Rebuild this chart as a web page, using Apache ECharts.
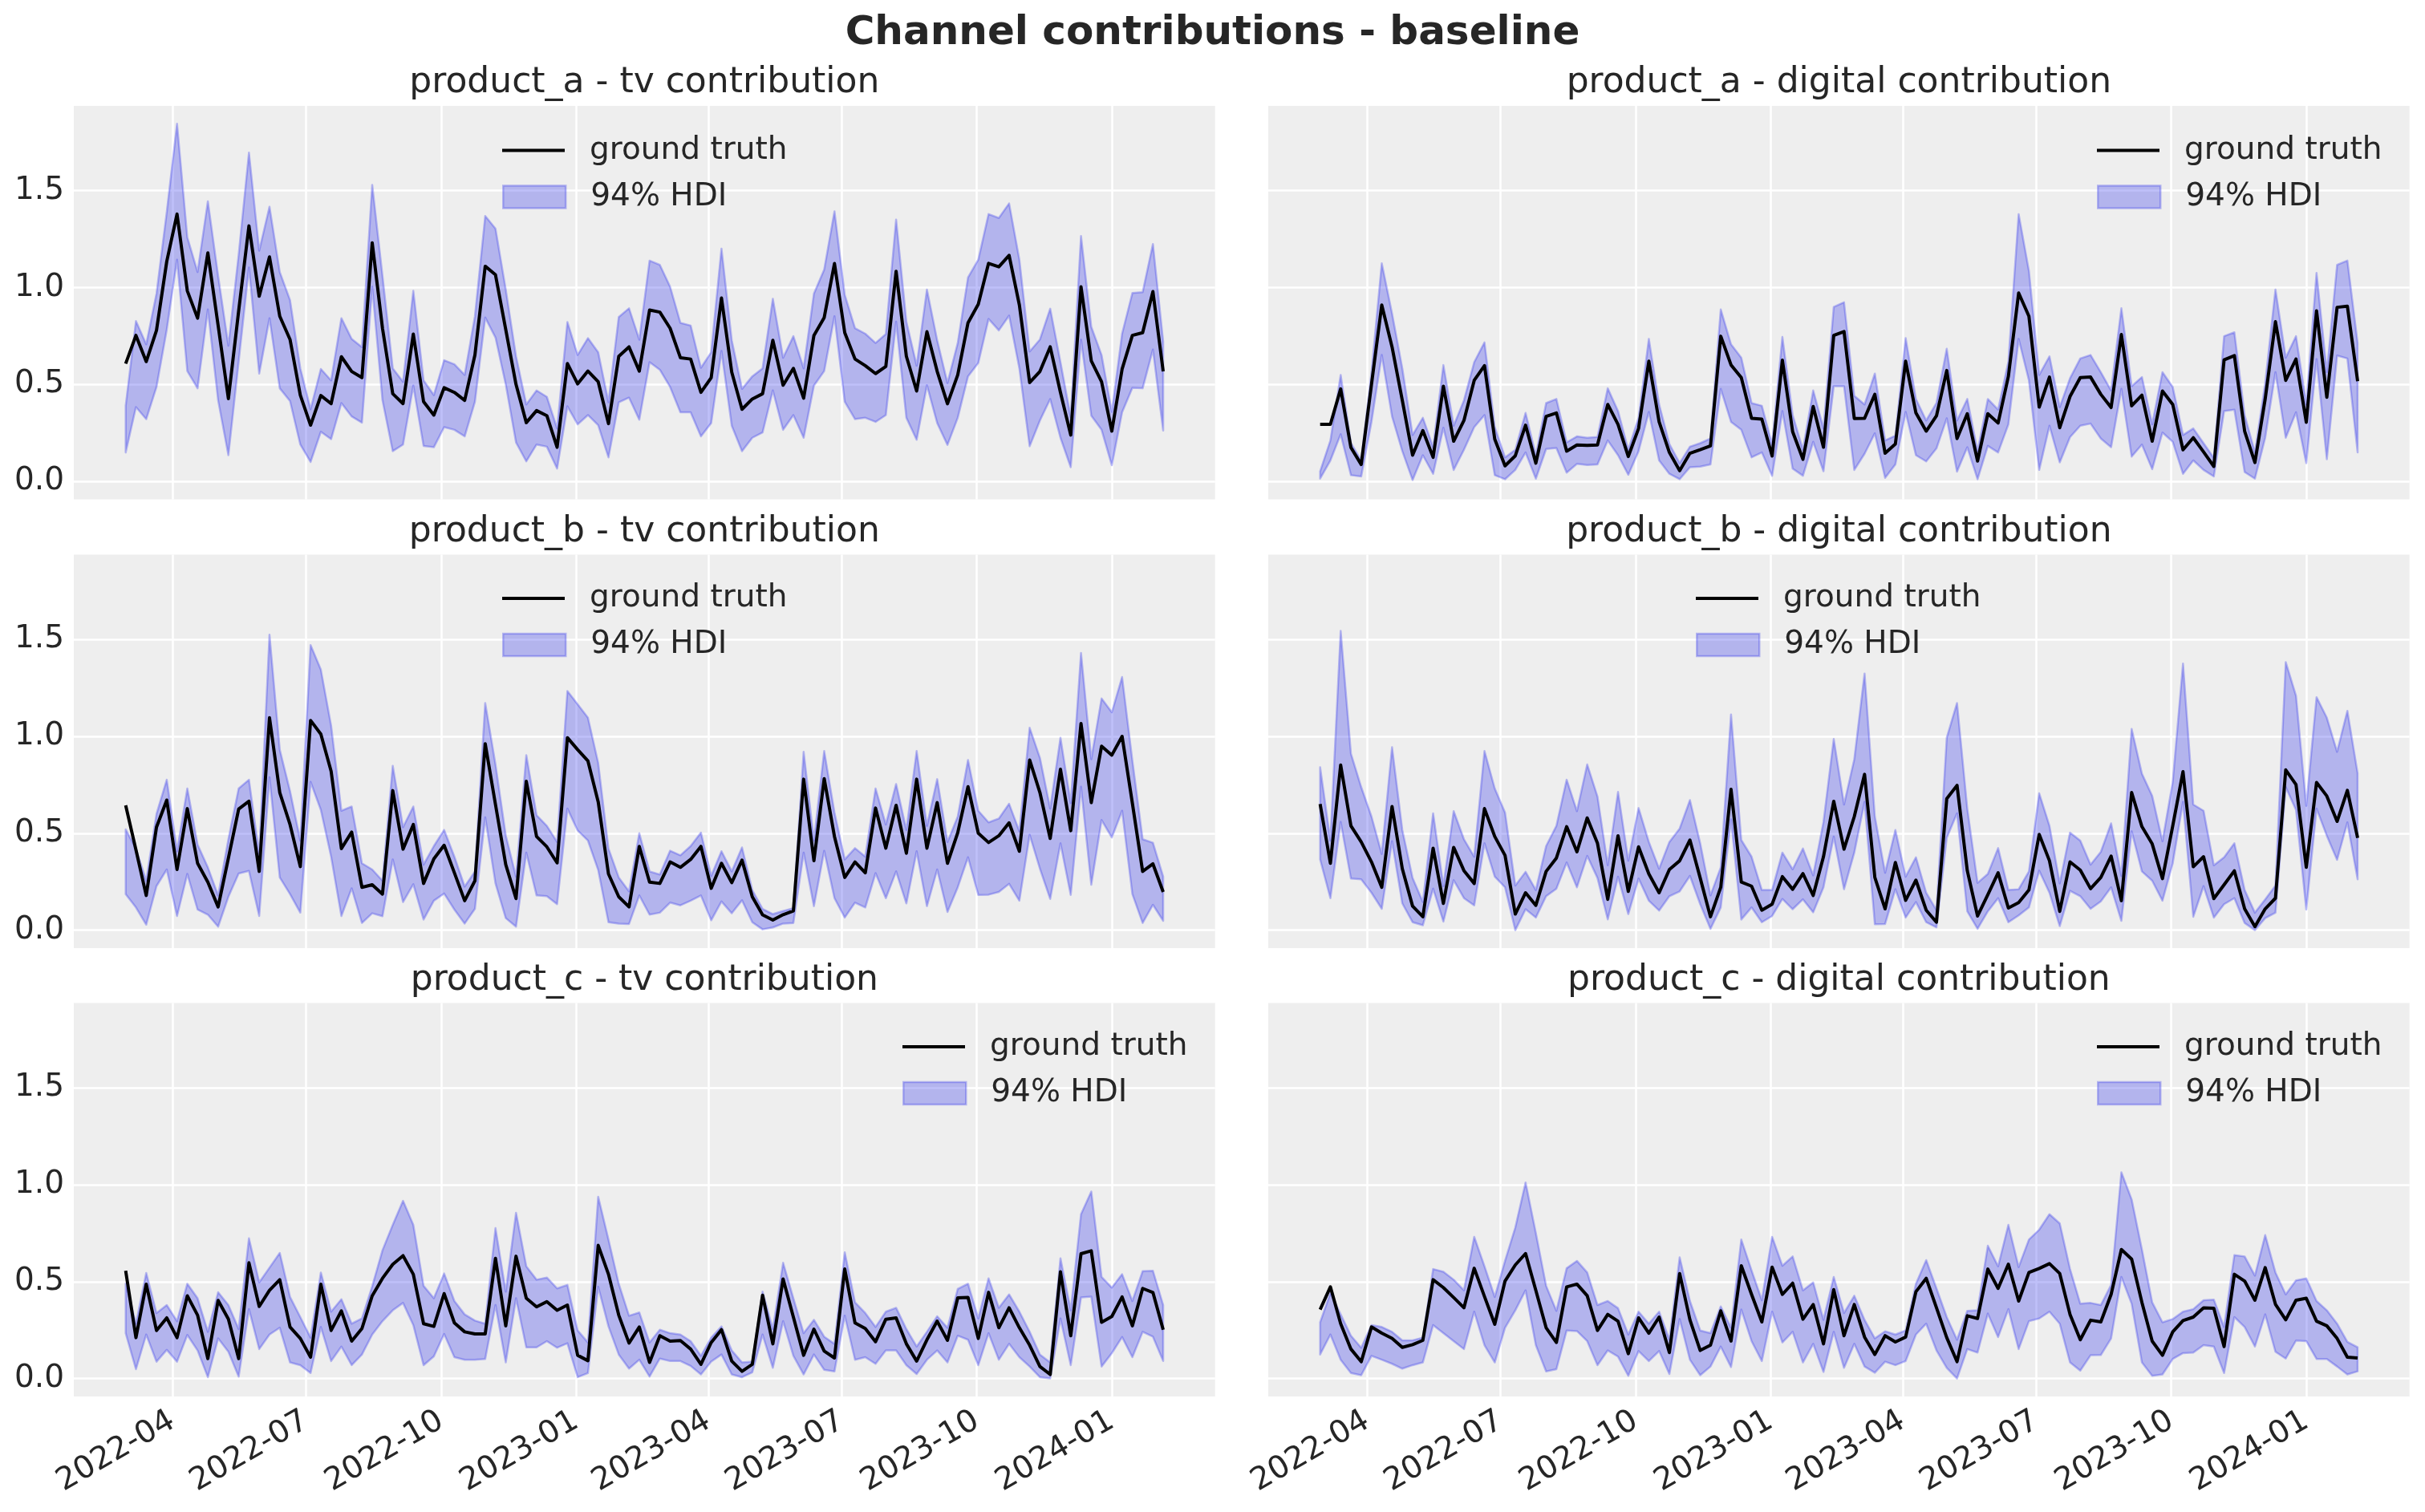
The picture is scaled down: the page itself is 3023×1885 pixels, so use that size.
<!DOCTYPE html>
<html>
<head>
<meta charset="utf-8">
<title>Channel contributions - baseline</title>
<script src="https://cdn.jsdelivr.net/npm/echarts@6/dist/echarts.min.js"></script>
<style>
  html, body { margin: 0; padding: 0; background: #ffffff; }
  #chart { width: 3023px; height: 1885px; }
</style>
</head>
<body>
<div id="chart"></div>
<script>
// weekly index, first week and tick positions
const weekStart = '2022-02-28';
const quarterTicks = ['2022-04-01', '2022-07-01', '2022-10-01', '2023-01-01',
  '2023-04-01', '2023-07-01', '2023-10-01', '2024-01-01'];
const yTicks = [0, 0.5, 1.0, 1.5];

// product_a - tv
const aTvTruth = [0.607,0.753,0.618,0.779,1.135,1.379,0.983,0.842,1.179,0.804,
  0.427,0.88,1.318,0.955,1.158,0.852,0.732,0.445,0.29,0.443,
  0.401,0.643,0.567,0.535,1.231,0.79,0.452,0.401,0.76,0.411,
  0.342,0.483,0.459,0.418,0.652,1.11,1.066,0.783,0.5,0.303,
  0.365,0.339,0.176,0.608,0.503,0.569,0.514,0.298,0.645,0.694,
  0.569,0.884,0.873,0.79,0.638,0.631,0.459,0.535,0.946,0.563,
  0.372,0.425,0.452,0.728,0.496,0.583,0.429,0.753,0.845,1.124,
  0.767,0.631,0.597,0.556,0.593,1.084,0.645,0.466,0.772,0.567,
  0.4,0.549,0.818,0.914,1.125,1.107,1.166,0.91,0.51,0.567,
  0.694,0.459,0.239,1.004,0.622,0.514,0.259,0.579,0.753,0.767,
  0.979,0.567];
const aTvHigh = [0.39,0.827,0.707,0.969,1.39,1.845,1.259,1.08,1.445,1.06,
  0.70,1.17,1.696,1.19,1.417,1.08,0.935,0.583,0.372,0.58,
  0.521,0.842,0.735,0.693,1.53,1.06,0.583,0.514,0.983,0.521,
  0.445,0.625,0.604,0.549,0.852,1.369,1.304,0.99,0.645,0.397,
  0.469,0.436,0.273,0.822,0.652,0.739,0.666,0.408,0.848,0.893,
  0.731,1.139,1.117,1.004,0.818,0.804,0.586,0.666,1.201,0.728,
  0.477,0.542,0.583,0.942,0.638,0.749,0.583,0.969,1.093,1.393,
  0.962,0.79,0.762,0.714,0.76,1.351,0.824,0.597,0.99,0.728,
  0.507,0.714,1.052,1.144,1.379,1.359,1.434,1.144,0.67,0.732,
  0.891,0.615,0.331,1.266,0.797,0.652,0.358,0.762,0.972,0.976,
  1.224,0.721];
const aTvLow = [0.149,0.383,0.321,0.487,0.783,1.144,0.569,0.48,0.887,0.418,
  0.135,0.618,1.103,0.556,0.842,0.48,0.414,0.19,0.10,0.256,
  0.218,0.404,0.335,0.303,1.004,0.418,0.156,0.19,0.494,0.183,
  0.176,0.28,0.266,0.232,0.411,0.845,0.742,0.5,0.201,0.103,
  0.19,0.179,0.066,0.387,0.294,0.342,0.29,0.124,0.408,0.432,
  0.318,0.615,0.576,0.487,0.356,0.356,0.232,0.301,0.673,0.287,
  0.156,0.225,0.252,0.469,0.266,0.342,0.225,0.494,0.569,0.852,
  0.411,0.321,0.328,0.307,0.342,0.824,0.328,0.215,0.496,0.301,
  0.188,0.328,0.542,0.611,0.838,0.779,0.855,0.583,0.181,0.314,
  0.425,0.225,0.073,0.731,0.339,0.266,0.083,0.356,0.483,0.48,
  0.68,0.262];

// product_a - digital
const aDigTruth = [0.294,0.294,0.477,0.174,0.087,0.5,0.91,0.694,0.418,0.135,
  0.262,0.124,0.491,0.207,0.314,0.521,0.597,0.218,0.08,0.132,
  0.29,0.094,0.335,0.353,0.156,0.188,0.186,0.188,0.397,0.294,
  0.128,0.273,0.62,0.307,0.149,0.055,0.145,0.163,0.183,0.749,
  0.601,0.535,0.325,0.321,0.131,0.625,0.256,0.114,0.386,0.176,
  0.753,0.773,0.324,0.325,0.449,0.145,0.193,0.62,0.353,0.259,
  0.338,0.572,0.221,0.349,0.105,0.349,0.301,0.542,0.972,0.852,
  0.383,0.538,0.277,0.438,0.535,0.538,0.449,0.381,0.758,0.39,
  0.445,0.207,0.466,0.397,0.163,0.225,0.152,0.077,0.627,0.649,
  0.259,0.097,0.425,0.824,0.521,0.631,0.305,0.88,0.434,0.898,
  0.904,0.517];
const aDigHigh = [0.052,0.211,0.549,0.197,0.108,0.563,1.125,0.866,0.583,0.239,
  0.328,0.176,0.6,0.287,0.418,0.615,0.717,0.28,0.124,0.163,
  0.353,0.135,0.404,0.425,0.201,0.232,0.225,0.229,0.48,0.363,
  0.163,0.328,0.735,0.397,0.193,0.094,0.179,0.197,0.221,0.887,
  0.707,0.638,0.404,0.39,0.19,0.745,0.342,0.163,0.469,0.273,
  0.9,0.924,0.441,0.397,0.556,0.211,0.236,0.739,0.425,0.314,
  0.404,0.684,0.314,0.425,0.156,0.425,0.37,0.618,1.379,1.086,
  0.549,0.645,0.383,0.532,0.634,0.652,0.563,0.469,0.893,0.491,
  0.538,0.294,0.563,0.487,0.239,0.273,0.197,0.121,0.749,0.769,
  0.342,0.149,0.507,0.99,0.638,0.749,0.397,1.075,0.563,1.117,
  1.139,0.714];
const aDigLow = [0.014,0.108,0.243,0.032,0.025,0.307,0.652,0.335,0.156,0.007,
  0.135,0.039,0.277,0.059,0.163,0.28,0.342,0.032,0.011,0.059,
  0.149,0.014,0.167,0.172,0.045,0.09,0.084,0.087,0.211,0.135,
  0.034,0.156,0.358,0.108,0.039,0.011,0.073,0.076,0.087,0.477,
  0.307,0.266,0.124,0.149,0.028,0.363,0.066,0.029,0.204,0.052,
  0.491,0.491,0.059,0.142,0.248,0.018,0.087,0.358,0.135,0.103,
  0.17,0.325,0.05,0.176,0.011,0.183,0.149,0.294,0.735,0.521,
  0.059,0.287,0.098,0.228,0.287,0.298,0.221,0.176,0.477,0.128,
  0.19,0.063,0.252,0.204,0.039,0.108,0.059,0.025,0.363,0.37,
  0.048,0.014,0.225,0.563,0.225,0.356,0.094,0.631,0.114,0.649,
  0.634,0.149];

// product_b - tv
const bTvTruth = [0.644,0.414,0.179,0.531,0.671,0.313,0.627,0.345,0.248,0.12,
  0.372,0.625,0.665,0.303,1.096,0.71,0.545,0.328,1.082,1.011,
  0.82,0.421,0.506,0.221,0.234,0.186,0.72,0.418,0.545,0.241,
  0.368,0.438,0.296,0.152,0.255,0.962,0.648,0.338,0.163,0.768,
  0.483,0.43,0.347,0.993,0.931,0.873,0.662,0.29,0.172,0.12,
  0.432,0.248,0.241,0.352,0.324,0.365,0.432,0.216,0.345,0.245,
  0.361,0.172,0.079,0.052,0.08,0.099,0.779,0.358,0.782,0.483,
  0.272,0.352,0.296,0.63,0.423,0.644,0.397,0.779,0.423,0.658,
  0.345,0.503,0.74,0.5,0.452,0.487,0.554,0.407,0.878,0.71,
  0.473,0.83,0.513,1.066,0.658,0.949,0.903,1.0,0.655,0.303,
  0.342,0.197];
const bTvHigh = [0.52,0.42,0.255,0.6,0.776,0.407,0.731,0.441,0.324,0.179,
  0.469,0.731,0.776,0.393,1.524,0.931,0.717,0.462,1.471,1.344,
  1.055,0.616,0.638,0.345,0.313,0.255,0.848,0.531,0.638,0.338,
  0.434,0.517,0.379,0.225,0.303,1.172,0.855,0.489,0.276,0.903,
  0.593,0.538,0.455,1.234,1.165,1.096,0.862,0.421,0.272,0.2,
  0.5,0.303,0.287,0.41,0.386,0.434,0.503,0.28,0.407,0.303,
  0.427,0.207,0.11,0.083,0.099,0.113,0.92,0.462,0.924,0.607,
  0.365,0.423,0.379,0.731,0.545,0.754,0.517,0.924,0.538,0.779,
  0.455,0.586,0.878,0.616,0.556,0.576,0.652,0.51,1.044,0.889,
  0.627,0.993,0.655,1.43,0.882,1.195,1.124,1.306,0.875,0.469,
  0.451,0.276];
const bTvLow = [0.186,0.117,0.028,0.227,0.313,0.073,0.29,0.106,0.08,0.018,
  0.172,0.292,0.306,0.073,0.789,0.272,0.186,0.09,0.765,0.62,
  0.379,0.073,0.216,0.037,0.087,0.072,0.365,0.145,0.237,0.055,
  0.152,0.189,0.106,0.034,0.11,0.582,0.241,0.062,0.018,0.4,
  0.179,0.175,0.134,0.627,0.514,0.462,0.31,0.041,0.034,0.032,
  0.179,0.08,0.09,0.142,0.128,0.152,0.179,0.051,0.148,0.087,
  0.154,0.041,0.004,0.014,0.034,0.037,0.4,0.124,0.409,0.165,
  0.065,0.142,0.117,0.294,0.165,0.303,0.138,0.407,0.124,0.313,
  0.094,0.221,0.376,0.182,0.183,0.197,0.239,0.152,0.492,0.317,
  0.161,0.448,0.182,0.74,0.234,0.568,0.478,0.616,0.186,0.037,
  0.131,0.048];

// product_b - digital
const bDigTruth = [0.651,0.345,0.852,0.538,0.455,0.352,0.221,0.638,0.317,0.124,
  0.069,0.423,0.138,0.427,0.307,0.241,0.627,0.483,0.386,0.083,
  0.193,0.128,0.303,0.372,0.534,0.404,0.579,0.448,0.159,0.487,
  0.2,0.43,0.29,0.193,0.313,0.358,0.465,0.269,0.069,0.221,
  0.727,0.248,0.227,0.103,0.134,0.276,0.211,0.292,0.179,0.379,
  0.665,0.418,0.586,0.804,0.272,0.11,0.349,0.154,0.258,0.103,
  0.041,0.678,0.747,0.307,0.073,0.183,0.296,0.114,0.142,0.207,
  0.494,0.358,0.097,0.352,0.31,0.214,0.272,0.382,0.152,0.71,
  0.534,0.445,0.266,0.538,0.818,0.327,0.379,0.163,0.234,0.306,
  0.11,0.018,0.11,0.165,0.827,0.751,0.324,0.762,0.692,0.561,
  0.721,0.476];
const bDigHigh = [0.841,0.462,1.544,0.91,0.738,0.586,0.393,0.944,0.517,0.269,
  0.145,0.603,0.227,0.614,0.469,0.379,0.924,0.731,0.607,0.23,
  0.301,0.207,0.434,0.538,0.776,0.614,0.855,0.689,0.335,0.713,
  0.358,0.63,0.455,0.317,0.455,0.524,0.671,0.448,0.179,0.324,
  1.113,0.465,0.379,0.207,0.207,0.4,0.314,0.421,0.283,0.558,
  0.986,0.648,0.882,1.324,0.586,0.296,0.517,0.276,0.376,0.193,
  0.103,0.993,1.172,0.627,0.244,0.29,0.423,0.207,0.211,0.303,
  0.706,0.538,0.241,0.503,0.462,0.338,0.404,0.551,0.28,1.038,
  0.807,0.693,0.459,0.765,1.375,0.648,0.616,0.335,0.376,0.448,
  0.207,0.09,0.159,0.23,1.383,1.209,0.641,1.202,1.096,0.92,
  1.131,0.809];
const bDigLow = [0.365,0.165,0.558,0.266,0.262,0.193,0.11,0.459,0.138,0.041,
  0.025,0.214,0.044,0.258,0.165,0.128,0.448,0.276,0.221,0.0,
  0.108,0.065,0.175,0.214,0.349,0.221,0.383,0.269,0.055,0.276,
  0.083,0.266,0.152,0.101,0.175,0.2,0.28,0.134,0.007,0.117,
  0.572,0.055,0.117,0.041,0.073,0.161,0.108,0.159,0.092,0.221,
  0.483,0.211,0.4,0.662,0.03,0.032,0.211,0.065,0.145,0.041,
  0.014,0.476,0.603,0.097,0.007,0.097,0.165,0.041,0.076,0.117,
  0.307,0.193,0.021,0.203,0.175,0.11,0.148,0.221,0.048,0.51,
  0.303,0.255,0.152,0.345,0.662,0.069,0.227,0.065,0.134,0.165,
  0.037,0.0,0.062,0.09,0.738,0.62,0.106,0.627,0.487,0.363,
  0.556,0.262];

// product_c - tv
const cTvTruth = [0.556,0.211,0.487,0.248,0.313,0.211,0.427,0.327,0.103,0.403,
  0.307,0.103,0.597,0.372,0.455,0.51,0.266,0.207,0.11,0.487,
  0.248,0.349,0.193,0.258,0.427,0.517,0.589,0.634,0.538,0.283,
  0.269,0.438,0.287,0.241,0.23,0.23,0.62,0.272,0.631,0.414,
  0.37,0.397,0.352,0.379,0.12,0.092,0.687,0.538,0.327,0.183,
  0.266,0.083,0.221,0.193,0.196,0.152,0.073,0.186,0.252,0.09,
  0.037,0.073,0.43,0.179,0.514,0.317,0.12,0.255,0.142,0.106,
  0.565,0.287,0.258,0.19,0.306,0.313,0.179,0.09,0.2,0.296,
  0.197,0.416,0.418,0.207,0.445,0.262,0.365,0.262,0.172,0.062,
  0.021,0.551,0.221,0.644,0.659,0.29,0.32,0.421,0.272,0.465,
  0.444,0.252];
const cTvHigh = [0.49,0.283,0.545,0.338,0.379,0.296,0.489,0.414,0.241,0.445,
  0.379,0.255,0.724,0.496,0.572,0.648,0.421,0.317,0.211,0.547,
  0.345,0.409,0.283,0.31,0.476,0.662,0.793,0.917,0.793,0.478,
  0.414,0.542,0.4,0.331,0.299,0.283,0.776,0.448,0.855,0.579,
  0.51,0.521,0.465,0.483,0.248,0.186,0.938,0.717,0.489,0.324,
  0.341,0.186,0.252,0.234,0.227,0.193,0.117,0.211,0.269,0.145,
  0.083,0.087,0.448,0.255,0.597,0.414,0.234,0.303,0.216,0.179,
  0.651,0.393,0.338,0.266,0.345,0.365,0.255,0.165,0.241,0.321,
  0.262,0.462,0.489,0.31,0.517,0.365,0.434,0.345,0.241,0.124,
  0.083,0.62,0.352,0.848,0.965,0.524,0.469,0.538,0.4,0.554,
  0.556,0.379];
const cTvLow = [0.234,0.048,0.227,0.087,0.148,0.087,0.225,0.145,0.007,0.207,
  0.138,0.01,0.358,0.152,0.227,0.262,0.083,0.069,0.028,0.266,
  0.09,0.165,0.069,0.124,0.227,0.296,0.352,0.39,0.276,0.069,
  0.114,0.23,0.11,0.097,0.097,0.101,0.379,0.083,0.414,0.161,
  0.161,0.193,0.159,0.182,0.007,0.028,0.473,0.269,0.124,0.051,
  0.097,0.01,0.103,0.09,0.09,0.065,0.021,0.087,0.124,0.021,
  0.007,0.032,0.227,0.055,0.296,0.117,0.021,0.124,0.045,0.037,
  0.324,0.097,0.11,0.076,0.145,0.145,0.069,0.023,0.097,0.145,
  0.083,0.221,0.2,0.069,0.234,0.097,0.179,0.11,0.062,0.007,
  0.0,0.31,0.069,0.418,0.423,0.062,0.131,0.214,0.11,0.241,
  0.216,0.09];

// product_c - digital
const cDigTruth = [0.356,0.473,0.283,0.152,0.087,0.266,0.234,0.207,0.161,0.175,
  0.197,0.51,0.469,0.418,0.365,0.569,0.423,0.28,0.503,0.586,
  0.645,0.455,0.262,0.186,0.473,0.487,0.427,0.248,0.331,0.296,
  0.128,0.313,0.234,0.317,0.134,0.542,0.303,0.145,0.172,0.349,
  0.193,0.582,0.434,0.292,0.575,0.434,0.492,0.306,0.382,0.179,
  0.459,0.221,0.382,0.214,0.124,0.221,0.189,0.214,0.448,0.517,
  0.365,0.211,0.087,0.324,0.31,0.565,0.465,0.59,0.4,0.547,
  0.568,0.593,0.542,0.331,0.2,0.301,0.292,0.434,0.666,0.616,
  0.393,0.193,0.12,0.241,0.299,0.317,0.365,0.363,0.165,0.538,
  0.503,0.404,0.572,0.383,0.303,0.404,0.414,0.296,0.272,0.207,
  0.11,0.106];
const cDigHigh = [0.29,0.441,0.331,0.221,0.159,0.276,0.266,0.241,0.197,0.197,
  0.211,0.565,0.551,0.51,0.455,0.731,0.579,0.421,0.607,0.779,
  1.011,0.751,0.478,0.349,0.569,0.607,0.547,0.379,0.4,0.363,
  0.227,0.345,0.283,0.345,0.2,0.625,0.4,0.248,0.234,0.372,
  0.262,0.717,0.558,0.404,0.731,0.582,0.63,0.455,0.496,0.303,
  0.524,0.338,0.427,0.303,0.207,0.244,0.227,0.248,0.489,0.611,
  0.465,0.317,0.2,0.349,0.352,0.685,0.579,0.793,0.575,0.717,
  0.768,0.848,0.8,0.565,0.386,0.39,0.379,0.483,1.064,0.924,
  0.666,0.393,0.29,0.307,0.345,0.358,0.404,0.407,0.266,0.637,
  0.63,0.531,0.74,0.547,0.434,0.506,0.517,0.4,0.352,0.283,
  0.189,0.161];
const cDigLow = [0.124,0.227,0.097,0.028,0.017,0.117,0.097,0.076,0.051,0.069,
  0.083,0.276,0.234,0.193,0.152,0.345,0.172,0.083,0.262,0.352,
  0.455,0.172,0.037,0.048,0.248,0.245,0.193,0.069,0.145,0.113,
  0.014,0.142,0.09,0.142,0.023,0.307,0.097,0.017,0.062,0.165,
  0.059,0.356,0.193,0.09,0.345,0.186,0.241,0.083,0.179,0.034,
  0.241,0.055,0.179,0.062,0.03,0.087,0.069,0.09,0.227,0.283,
  0.145,0.055,0.0,0.152,0.134,0.335,0.214,0.358,0.152,0.296,
  0.31,0.345,0.283,0.083,0.041,0.12,0.121,0.207,0.524,0.386,
  0.083,0.014,0.021,0.101,0.131,0.134,0.172,0.165,0.028,0.317,
  0.266,0.165,0.331,0.138,0.103,0.196,0.193,0.101,0.101,0.062,
  0.021,0.037];

const panels = [
  { title: 'product_a - tv contribution', truth: aTvTruth, low: aTvLow, high: aTvHigh },
  { title: 'product_a - digital contribution', truth: aDigTruth, low: aDigLow, high: aDigHigh },
  { title: 'product_b - tv contribution', truth: bTvTruth, low: bTvLow, high: bTvHigh },
  { title: 'product_b - digital contribution', truth: bDigTruth, low: bDigLow, high: bDigHigh },
  { title: 'product_c - tv contribution', truth: cTvTruth, low: cTvLow, high: cTvHigh },
  { title: 'product_c - digital contribution', truth: cDigTruth, low: cDigLow, high: cDigHigh }
];

// layout (px)
const FONT = 'DejaVu Sans';
const TEXT = '#262626';
const HDI = 'rgba(42,46,236,0.3)';
const colLeft = [92, 1581];
const plotW = 1422.7;
const rowTop = [132, 691.5, 1250.5];
const plotH = 490.4;
const legendLeft = [626, 2614, 626, 2114, 1125, 2614];
const legendY = [184, 742.5, 1301.5];

const DAY = 86400000;
const t0 = Date.parse(weekStart);
const dates = aTvTruth.map((_, i) => t0 + i * 7 * DAY);
const span = dates[dates.length - 1] - dates[0];
const xMin = dates[0] - 0.05 * span;
const xMax = dates[dates.length - 1] + 0.05 * span;
const tickTimes = quarterTicks.map(s => Date.parse(s));

const allVals = panels.flatMap(p => p.truth.concat(p.low, p.high));
const vMin = Math.min(...allVals), vMax = Math.max(...allVals);
const yMin = vMin - 0.05 * (vMax - vMin);
const yMax = vMax + 0.05 * (vMax - vMin);

function fmtMonth(v) {
  const d = new Date(v);
  return d.getUTCFullYear() + '-' + String(d.getUTCMonth() + 1).padStart(2, '0');
}

// one filled polygon per panel: upper edge forward, lower edge back
function renderBand(params, api) {
  if (params.dataIndexInside !== 0) return null;
  const n = params.dataInsideLength;
  const upper = [], lower = [];
  for (let j = 0; j < n; j++) {
    upper.push(api.coord([api.value(0, j), api.value(2, j)]));
    lower.push(api.coord([api.value(0, j), api.value(1, j)]));
  }
  return {
    type: 'polygon', silent: true,
    shape: { points: upper.concat(lower.reverse()) },
    style: { fill: HDI, stroke: HDI, lineWidth: 2.5, lineJoin: 'round' }
  };
}

const grids = [], xAxes = [], yAxes = [], series = [], legends = [], texts = [];

panels.forEach((p, k) => {
  const r = Math.floor(k / 2), c = k % 2;
  grids.push({
    left: colLeft[c], top: rowTop[r], width: plotW, height: plotH,
    show: true, backgroundColor: '#eeeeee', borderWidth: 0,
    containLabel: false, outerBoundsMode: 'none'
  });
  // x is a plain value axis holding timestamps, so the quarter ticks can be placed exactly
  xAxes.push({
    type: 'value', gridIndex: k, min: xMin, max: xMax,
    axisLine: { show: false },
    axisTick: { show: false, customValues: tickTimes },
    axisLabel: {
      show: r === 2, customValues: tickTimes, formatter: fmtMonth,
      rotate: 30, margin: 28, fontSize: 39, fontFamily: FONT, color: TEXT
    },
    splitLine: { show: true, lineStyle: { color: '#ffffff', width: 2.5 } }
  });
  yAxes.push({
    type: 'value', gridIndex: k, min: yMin, max: yMax,
    axisLine: { show: false },
    axisTick: { show: false, customValues: yTicks },
    axisLabel: {
      show: c === 0, customValues: yTicks, formatter: v => v.toFixed(1),
      margin: 12, fontSize: 39, fontFamily: FONT, color: TEXT
    },
    splitLine: { show: true, lineStyle: { color: '#ffffff', width: 2.5 } }
  });

  series.push({
    type: 'custom', name: '94% HDI', xAxisIndex: k, yAxisIndex: k, z: 2,
    silent: true, animation: false, clip: true,
    renderItem: renderBand,
    encode: { x: 0, y: [1, 2] },
    itemStyle: { color: HDI },
    data: dates.map((d, i) => [d, p.low[i], p.high[i]])
  });
  series.push({
    type: 'line', name: 'ground truth', xAxisIndex: k, yAxisIndex: k, z: 3,
    symbol: 'none', showSymbol: false, silent: true, animation: false,
    emphasis: { disabled: true },
    data: dates.map((d, i) => [d, p.truth[i]]),
    lineStyle: { color: '#000000', width: 4, join: 'round' }
  });

  const legendText = { fontSize: 39, fontFamily: FONT, color: TEXT, padding: [0, 0, 0, 26] };
  legends.push({
    orient: 'vertical', left: legendLeft[k], top: legendY[r] - 16, padding: 0,
    itemWidth: 78, itemHeight: 4, selectedMode: false,
    textStyle: Object.assign({ lineHeight: 4 }, legendText),
    data: [{ name: 'ground truth', icon: 'rect', itemStyle: { color: '#000000', borderWidth: 0 } }]
  });
  legends.push({
    orient: 'vertical', left: legendLeft[k], top: legendY[r] + 58 - 16, padding: 0,
    itemWidth: 78, itemHeight: 28, selectedMode: false,
    textStyle: Object.assign({ lineHeight: 28 }, legendText),
    data: [{ name: '94% HDI', icon: 'rect', itemStyle: { color: HDI, borderColor: HDI, borderWidth: 2.5 } }]
  });

  texts.push({
    type: 'text', x: colLeft[c] + plotW / 2, y: rowTop[r] - 28, silent: true,
    style: { text: p.title, fontSize: 44, fontFamily: FONT, fill: TEXT, align: 'center', verticalAlign: 'middle' }
  });
});

texts.push({
  type: 'text', x: 1511.5, y: 42, silent: true,
  style: { text: 'Channel contributions - baseline', fontSize: 50, fontWeight: 'bold',
    fontFamily: FONT, fill: TEXT, align: 'center', verticalAlign: 'middle' }
});

const chart = echarts.init(document.getElementById('chart'));
chart.setOption({
  backgroundColor: '#ffffff',
  animation: false,
  grid: grids,
  xAxis: xAxes,
  yAxis: yAxes,
  legend: legends,
  series: series,
  graphic: texts
});
</script>
</body>
</html>
